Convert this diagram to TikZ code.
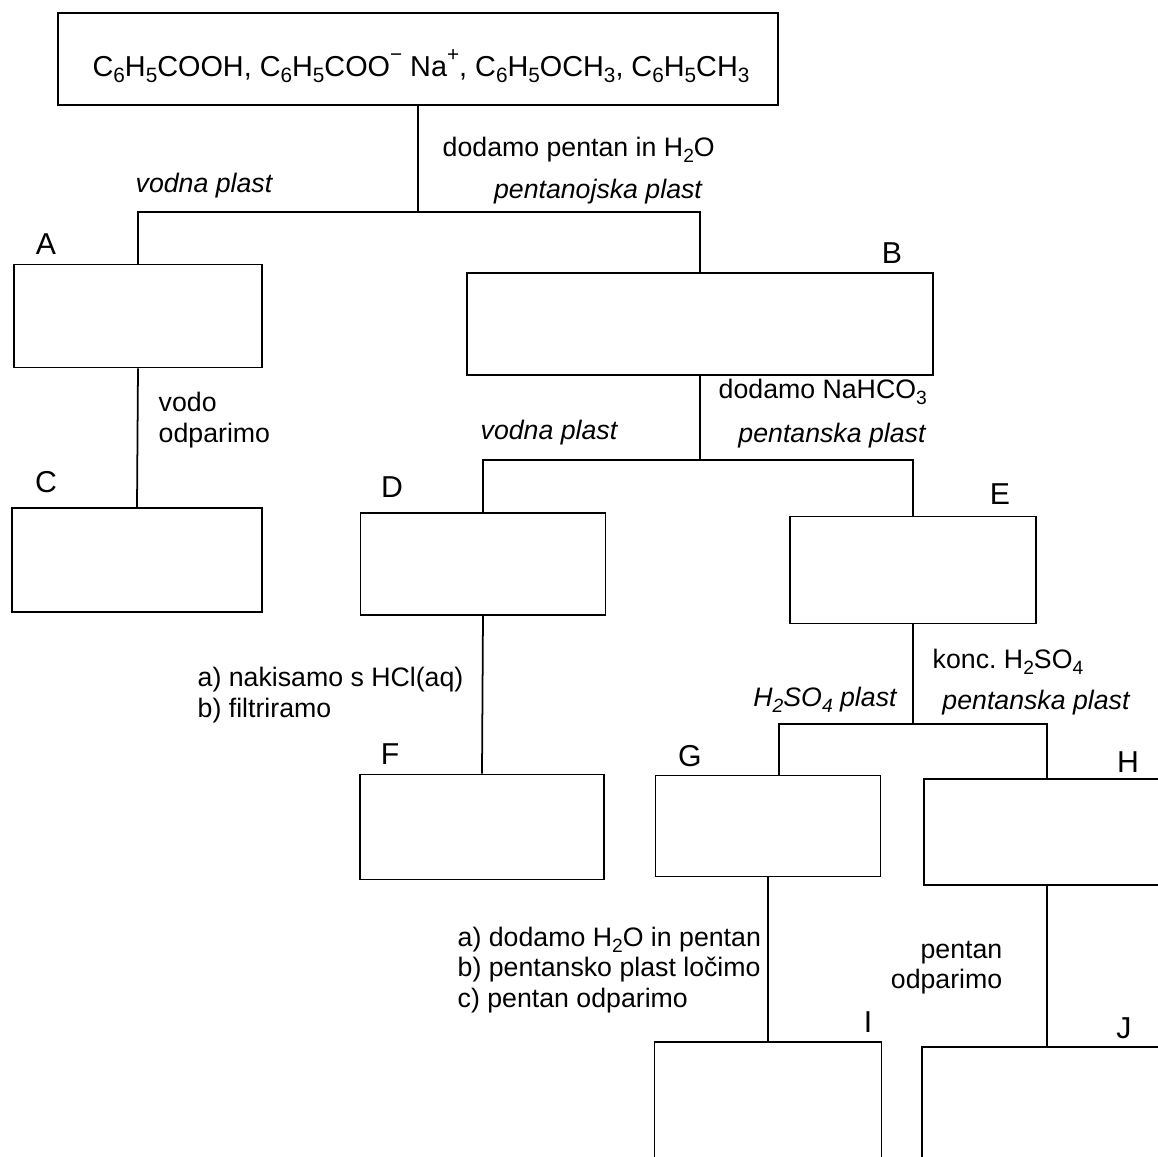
\documentclass[tikz,border=0pt]{standalone}
\usepackage{fontspec}
\setmainfont{Liberation Sans}
\newcommand{\chsub}[1]{\raisebox{-0.38ex}{\scalebox{0.72}{#1}}}
\newcommand{\chsup}[1]{\raisebox{0.95ex}{\scalebox{0.72}{#1}}}
\begin{document}
\begin{tikzpicture}[
  x=0.1mm, y=-0.1mm,
  every node/.style={font=\fontsize{7.6}{8.6}\selectfont},
  box_style/.style={draw, line width=0.5pt, minimum width=24.6mm, minimum height=10.3mm, inner sep=0pt},
  letter_style/.style={font=\fontsize{8.6}{9}\selectfont, inner sep=0pt},
  layer_style/.style={font=\fontsize{7.6}{8.6}\selectfont\itshape, inner sep=0pt},
  step_style/.style={align=left, anchor=west, inner sep=0pt},
  edge_style/.style={draw, line width=0.5pt}
]
\useasboundingbox (0,0) rectangle (1158,1157);
\clip (0,0) rectangle (1158,1157);

% Start mixture
\node [box_style, minimum width=72mm, minimum height=9.2mm] (mix) at (418,59) {};
\node [font=\fontsize{8.2}{9}\selectfont] (mixtext) at (421,66)
  {C\chsub{6}H\chsub{5}COOH, C\chsub{6}H\chsub{5}COO\chsup{−} Na\chsup{+}, C\chsub{6}H\chsub{5}OCH\chsub{3}, C\chsub{6}H\chsub{5}CH\chsub{3}};

% Boxes
\node [box_style, minimum width=24.8mm] (A) at (138,316) {};
\node [box_style, minimum width=46.6mm, minimum height=10.2mm] (B) at (700,324) {};
\node [box_style, minimum width=25mm, minimum height=10.4mm] (C) at (137,560) {};
\node [box_style, minimum width=24.5mm, minimum height=10.2mm] (D) at (483,564) {};
\node [box_style, minimum height=10.7mm] (E) at (913,570) {};
\node [box_style, minimum width=24.4mm, minimum height=10.5mm] (F) at (482,827) {};
\node [box_style, minimum width=22.5mm, minimum height=10.1mm] (G) at (768,826) {};
\node [box_style, minimum height=10.6mm] (H) at (1047,832) {};
\node [box_style, minimum width=22.7mm, minimum height=11.6mm] (I) at (768,1100) {};
\node [box_style, minimum width=25mm, minimum height=11.6mm] (J) at (1047,1105) {};

% Letters
\node [letter_style] (lA) at (46,244) {A};
\node [letter_style] (lB) at (892,253) {B};
\node [letter_style] (lC) at (46,482) {C};
\node [letter_style] (lD) at (392,487) {D};
\node [letter_style] (lE) at (1000,494) {E};
\node [letter_style] (lF) at (390,754) {F};
\node [letter_style] (lG) at (690,756) {G};
\node [letter_style] (lH) at (1128,762) {H};
\node [letter_style] (lI) at (868,1022) {I};
\node [letter_style] (lJ) at (1124,1028) {J};

% Junctions
\coordinate (j1) at (0,212);
\coordinate (j2) at (0,460);
\coordinate (j3) at (0,724);

% Connectors
\draw [edge_style] (mix.south) -- (mix.south |- j1);
\draw [edge_style] (A.north) -- (A.north |- j1) -- (B.north |- j1) -- (B.north);
\draw [edge_style] (A.south) -- (C.north);
\draw [edge_style] (B.south) -- (B.south |- j2);
\draw [edge_style] (D.north) -- (D.north |- j2) -- (E.north |- j2) -- (E.north);
\draw [edge_style] (D.south) -- (F.north);
\draw [edge_style] (E.south) -- (E.south |- j3);
\draw [edge_style] ([xshift=1.1mm]G.north) -- ([xshift=1.1mm]G.north |- j3) -- (H.north |- j3) -- (H.north);
\draw [edge_style] (G.south) -- (I.north);
\draw [edge_style] (H.south) -- (J.north);

% Steps
\node [step_style] (s1) at (442,150) {dodamo pentan in H\chsub{2}O};
\node [layer_style] (w1) at (204,186) {vodna plast};
\node [layer_style] (p1) at (598,192) {pentanojska plast};
\node [step_style] (s2) at (158,420) {vodo\\odparimo};
\node [step_style] (s3) at (718,392) {dodamo NaHCO\chsub{3}};
\node [layer_style] (w2) at (549,433) {vodna plast};
\node [layer_style] (p2) at (832,436) {pentanska plast};
\node [step_style] (s4) at (197,695) {a) nakisamo s HCl(aq)\\b) filtriramo};
\node [step_style] (s5) at (932,662) {konc.\ H\chsub{2}SO\chsub{4}};
\node [layer_style] (w3) at (825,700) {H\chsub{2}SO\chsub{4} plast};
\node [layer_style] (p3) at (1036,703) {pentanska plast};
\node [step_style] (s6) at (457,970) {a) dodamo H\chsub{2}O in pentan\\b) pentansko plast ločimo\\c) pentan odparimo};
\node [step_style, align=right, anchor=east] (s7) at (1003,968) {pentan\\odparimo};
\end{tikzpicture}
\end{document}
